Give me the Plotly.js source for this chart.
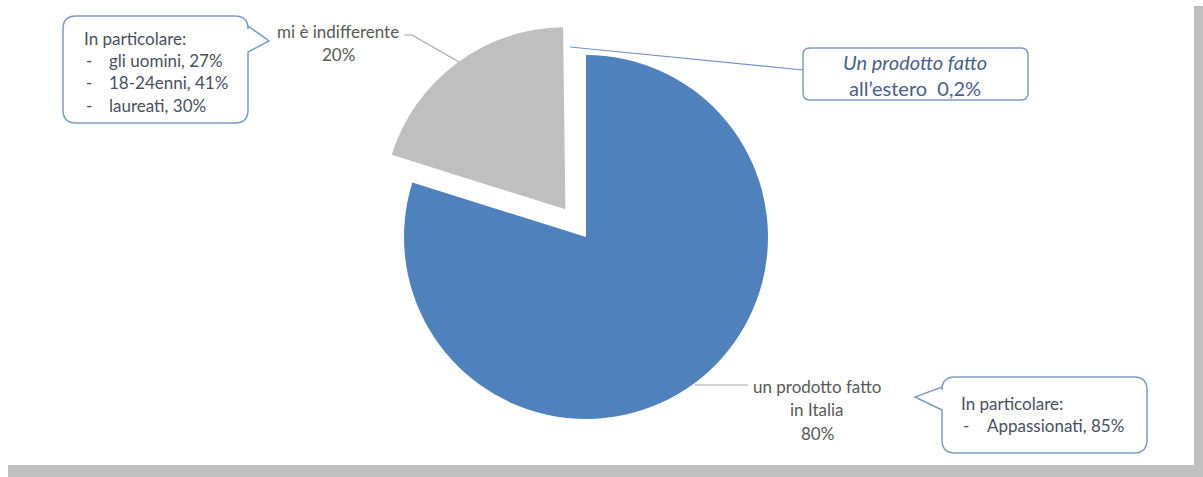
<!DOCTYPE html>
<html>
<head>
<meta charset="utf-8">
<script src="https://cdn.plot.ly/plotly-3.0.1.min.js"></script>
<style>html,body{margin:0;padding:0;background:#fff;}#chart{width:1203px;height:477px;}</style>
</head>
<body>
<div id="chart"></div>
<script>
// ---- data ----
const sliceLabels = ["un prodotto fatto in Italia", "mi è indifferente", "Un prodotto fatto all'estero"];
const sliceValues = [80, 20, 0.2];
const sliceColors = ["#4F81BD", "#BFBFBF", "#FFFFFF"];
const slicePull = [0, 0.19, 0];
const labelItalia = ["un prodotto fatto", "in Italia", "80%"];
const labelIndiff = ["mi è indifferente", "20%"];
const labelEstero = ["Un prodotto fatto", "all’estero  0,2%"];
const calloutLeftTitle = "In particolare:";
const calloutLeftItems = ["gli uomini, 27%", "18-24enni, 41%", "laureati, 30%"];
const calloutRightTitle = "In particolare:";
const calloutRightItems = ["Appassionati, 85%"];

const W = 1203, H = 477;
const FONT = "Lato, 'Open Sans', sans-serif";
const TXT = "#595959";
const BOXC = "#7C9CCB";
const FS = 17;

function roundedCallout(x0, y0, x1, y1, r, pointer) {
  let p = `M${x0 + r},${y0} L${x1 - r},${y0} Q${x1},${y0} ${x1},${y0 + r} `;
  if (pointer && pointer.side === 'right') p += `L${x1},${pointer.a} L${pointer.tipx},${pointer.tipy} L${x1},${pointer.b} `;
  p += `L${x1},${y1 - r} Q${x1},${y1} ${x1 - r},${y1} L${x0 + r},${y1} Q${x0},${y1} ${x0},${y1 - r} `;
  if (pointer && pointer.side === 'left') p += `L${x0},${pointer.b} L${pointer.tipx},${pointer.tipy} L${x0},${pointer.a} `;
  p += `L${x0},${y0 + r} Q${x0},${y0} ${x0 + r},${y0} Z`;
  return p;
}

const shapes = [
  // shadow frame
  {type: 'rect', xref: 'x', yref: 'y', x0: 1194, x1: 1203, y0: 6, y1: 477, fillcolor: '#BFBFBF', line: {width: 0}, layer: 'below'},
  {type: 'rect', xref: 'x', yref: 'y', x0: 8, x1: 1203, y0: 465, y1: 477, fillcolor: '#BFBFBF', line: {width: 0}, layer: 'below'},
  // leader lines
  {type: 'path', xref: 'x', yref: 'y', path: 'M404,35 L412,35 L459,62', line: {color: '#A6A6A6', width: 1.2}},
  {type: 'path', xref: 'x', yref: 'y', path: 'M695,385 L748,385', line: {color: '#A6A6A6', width: 1.2}},
  {type: 'path', xref: 'x', yref: 'y', path: 'M570,47 L803,70', line: {color: '#7393C6', width: 1.2}},
  // callouts
  {type: 'path', xref: 'x', yref: 'y', path: roundedCallout(63, 16, 248, 123, 13, {side: 'right', a: 26, tipx: 269, tipy: 41, b: 52}), line: {color: BOXC, width: 1.5}, fillcolor: 'rgba(255,255,255,1)'},
  {type: 'path', xref: 'x', yref: 'y', path: roundedCallout(803, 48, 1028, 100, 7, null), line: {color: BOXC, width: 1.5}, fillcolor: 'rgba(255,255,255,1)'},
  {type: 'path', xref: 'x', yref: 'y', path: roundedCallout(942, 377, 1147, 453, 13, {side: 'left', a: 387, tipx: 915, tipy: 397, b: 410}), line: {color: BOXC, width: 1.5}, fillcolor: 'rgba(255,255,255,1)'}
];

const annotations = [];
function addText(text, x, y, opts) {
  annotations.push(Object.assign({
    xref: 'x', yref: 'y', x: x, y: y, text: text, showarrow: false,
    xanchor: 'center', yanchor: 'middle',
    font: {family: FONT, size: FS, color: TXT}
  }, opts || {}));
}
// pie labels
labelIndiff.forEach((t, i) => addText(t, 338, 31 + i * 23));
labelItalia.forEach((t, i) => addText(t, 817, 386 + i * 23.5));
// estero callout
const EC = '#4A6090';
addText('<i>' + labelEstero[0] + '</i>', 915, 62, {font: {family: FONT, size: 20, color: EC}});
addText(labelEstero[1], 915, 88, {font: {family: FONT, size: 20, color: EC}});
// left callout
const CT = '#4A4F5E';
addText(calloutLeftTitle, 82, 38, {xanchor: 'left', font: {family: FONT, size: FS, color: CT}});
calloutLeftItems.forEach((t, i) => {
  addText('-', 84, 60 + i * 22.5, {xanchor: 'left', font: {family: FONT, size: FS, color: CT}});
  addText(t, 107, 60 + i * 22.5, {xanchor: 'left', font: {family: FONT, size: FS, color: CT}});
});
// right callout
addText(calloutRightTitle, 959, 403, {xanchor: 'left', font: {family: FONT, size: FS, color: CT}});
calloutRightItems.forEach((t, i) => {
  addText('-', 961, 425 + i * 22.5, {xanchor: 'left', font: {family: FONT, size: FS, color: CT}});
  addText(t, 985, 425 + i * 22.5, {xanchor: 'left', font: {family: FONT, size: FS, color: CT}});
});

// pie geometry: centre (586,237) px, radius 182 px, with pull
const cx = 586, cy = 237, R = 182;
const half = R * (1 + Math.max(...slicePull));
const data = [
  {type: 'scatter', x: [], y: [], hoverinfo: 'skip', showlegend: false},
  {
    type: 'pie', labels: sliceLabels, values: sliceValues, sort: false,
    direction: 'clockwise', rotation: 0, pull: slicePull,
    marker: {colors: sliceColors, line: {width: 0}},
    textinfo: 'none', hoverinfo: 'label+percent', showlegend: false,
    domain: {x: [(cx - half) / W, (cx + half) / W], y: [1 - (cy + half) / H, 1 - (cy - half) / H]}
  }
];

const layout = {
  width: W, height: H,
  margin: {l: 0, r: 0, t: 0, b: 0},
  paper_bgcolor: '#FFFFFF', plot_bgcolor: 'rgba(0,0,0,0)',
  showlegend: false,
  xaxis: {range: [0, W], visible: false, fixedrange: true},
  yaxis: {range: [H, 0], visible: false, fixedrange: true},
  shapes: shapes,
  annotations: annotations
};
Plotly.newPlot('chart', data, layout, {displayModeBar: false, staticPlot: true});
</script>
</body>
</html>
